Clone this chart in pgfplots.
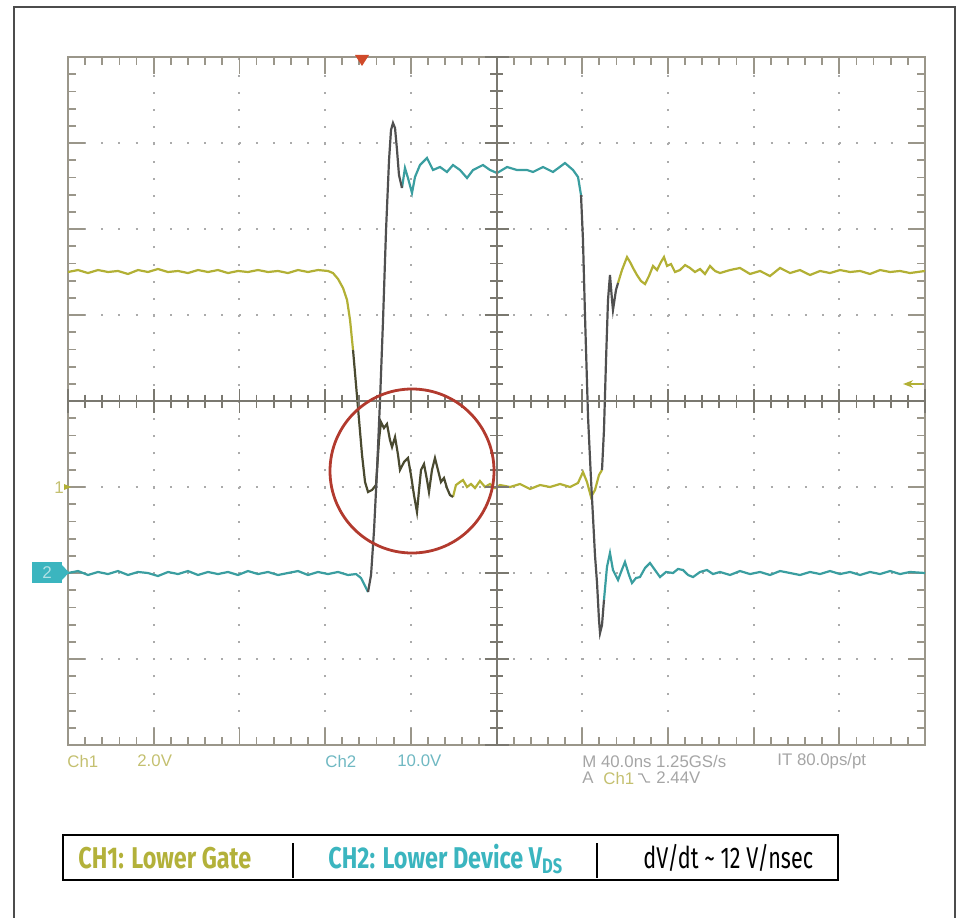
\documentclass[border=0pt]{standalone}
\usepackage{pgfplots}
\pgfplotsset{compat=1.18}
\usetikzlibrary{arrows.meta}
\usepackage{fontspec}
\setmainfont{Liberation Sans}
\newfontfamily\legfont{Fira Sans}[FakeStretch=0.78]
\newfontfamily\legfontr{Fira Sans}[FakeStretch=0.72]
\definecolor{chone}{HTML}{B2B035}
\definecolor{chtwo}{HTML}{3A9EA0}
\definecolor{edge}{HTML}{505050}
\definecolor{ringdark}{HTML}{4A4A30}
\definecolor{framec}{HTML}{9A968A}
\definecolor{gridc}{HTML}{ABABAB}
\definecolor{centerc}{HTML}{7A7870}
\definecolor{ringc}{HTML}{B23A2E}
\definecolor{trig}{HTML}{D04A2A}
\definecolor{chonetxt}{HTML}{C4C070}
\definecolor{chtwotxt}{HTML}{6FB8C2}
\definecolor{scopegray}{HTML}{A5A5A5}
\definecolor{legone}{HTML}{B3B13A}
\definecolor{legtwo}{HTML}{3BB5BF}
\begin{document}
\begin{tikzpicture}
\useasboundingbox (0,0) rectangle (480.5pt,458.5pt);
\begin{axis}[at={(34pt,86pt)}, anchor=south west,
  width=428.5pt, height=344pt, scale only axis,
  xmin=0, xmax=10, ymin=-4, ymax=4,
  xtick={0,...,10}, ytick={-4,...,4},
  minor x tick num=4, minor y tick num=4,
  xticklabels={}, yticklabels={},
  tick align=inside, major tick length=8.5pt, minor tick length=4pt,
  axis line style={framec, line width=1.2pt},
  tick style={framec, line width=0.9pt},
  grid=major,
  major grid style={gridc, line width=1pt, dash pattern=on 1pt off 7.58pt, dash phase=0.5pt},
  clip=false]
% CH1 lower gate (divisions)
\addplot[chone, line width=1.1pt] coordinates {(0,1.500)(0.117,1.523)(0.233,1.488)(0.350,1.523)(0.467,1.500)(0.583,1.512)(0.700,1.477)(0.817,1.523)(0.933,1.500)(1.050,1.535)(1.167,1.500)(1.284,1.512)(1.400,1.488)(1.517,1.523)(1.634,1.500)(1.750,1.523)(1.867,1.488)(1.984,1.512)(2.100,1.500)(2.217,1.523)(2.334,1.500)(2.450,1.512)(2.567,1.488)(2.684,1.523)(2.800,1.500)(2.917,1.523)(3.034,1.512)(3.092,1.488)(3.151,1.419)(3.209,1.314)(3.256,1.174)(3.291,0.942)(3.326,0.593)};
\addplot[chone, line width=1.1pt] coordinates {(4.492,-1.116)(4.527,-0.977)(4.574,-0.942)(4.609,-0.919)(4.656,-1.000)(4.702,-0.965)(4.749,-1.012)(4.807,-0.930)(4.866,-1.000)(4.924,-0.965)(4.982,-1.012)(5.041,-0.977)(5.158,-1.000)(5.274,-0.965)(5.391,-1.023)(5.508,-0.977)(5.624,-1.000)(5.741,-0.965)(5.858,-1.000)(5.951,-0.953)(6.009,-0.826)(6.056,-0.942)(6.103,-1.116)(6.149,-1.035)(6.196,-0.860)(6.231,-0.802)};
\addplot[chone, line width=1.1pt] coordinates {(6.418,1.372)(6.464,1.523)(6.523,1.674)(6.558,1.616)(6.593,1.547)(6.639,1.465)(6.686,1.395)(6.733,1.360)(6.779,1.453)(6.826,1.570)(6.873,1.523)(6.919,1.616)(6.954,1.674)(6.990,1.570)(7.036,1.593)(7.083,1.500)(7.141,1.523)(7.200,1.581)(7.258,1.547)(7.316,1.500)(7.375,1.535)(7.433,1.477)(7.491,1.570)(7.550,1.512)(7.608,1.488)(7.725,1.523)(7.841,1.547)(7.958,1.477)(8.075,1.512)(8.191,1.453)(8.308,1.547)(8.425,1.488)(8.541,1.523)(8.658,1.465)(8.775,1.512)(8.891,1.488)(9.008,1.523)(9.125,1.500)(9.242,1.512)(9.358,1.477)(9.475,1.523)(9.592,1.500)(9.708,1.512)(9.825,1.488)(10.000,1.512)};
% CH2 lower device VDS (divisions)
\addplot[chtwo, line width=1.1pt] coordinates {(0,-2.000)(0.117,-1.977)(0.233,-2.023)(0.350,-1.988)(0.467,-2.012)(0.583,-1.977)(0.700,-2.023)(0.817,-1.988)(0.933,-2.000)(1.050,-2.035)(1.167,-1.988)(1.284,-2.012)(1.400,-1.977)(1.517,-2.023)(1.634,-1.988)(1.750,-2.012)(1.867,-1.988)(1.984,-2.023)(2.100,-1.977)(2.217,-2.012)(2.334,-1.988)(2.450,-2.023)(2.567,-2.000)(2.684,-1.977)(2.800,-2.023)(2.917,-1.988)(3.034,-2.012)(3.151,-1.988)(3.267,-2.023)(3.361,-2.012)(3.419,-2.058)(3.466,-2.151)(3.501,-2.221)};
\addplot[chtwo, line width=1.1pt] coordinates {(3.897,2.477)(3.932,2.709)(3.967,2.593)(4.014,2.419)(4.049,2.605)(4.107,2.744)(4.189,2.826)(4.259,2.686)(4.341,2.721)(4.422,2.663)(4.492,2.744)(4.574,2.686)(4.656,2.593)(4.726,2.686)(4.842,2.744)(4.924,2.686)(5.006,2.651)(5.123,2.721)(5.239,2.686)(5.356,2.686)(5.426,2.663)(5.543,2.721)(5.659,2.663)(5.799,2.767)(5.893,2.686)(5.951,2.605)(5.986,2.395)};
\addplot[chtwo, line width=1.1pt] coordinates {(6.254,-2.314)(6.289,-1.930)(6.324,-1.767)(6.359,-1.965)(6.418,-2.081)(6.453,-1.988)(6.499,-1.872)(6.546,-2.023)(6.581,-2.116)(6.628,-2.058)(6.674,-2.047)(6.733,-1.942)(6.791,-1.884)(6.849,-1.965)(6.908,-2.047)(6.978,-1.988)(7.060,-2.000)(7.118,-1.953)(7.176,-1.965)(7.235,-2.023)(7.293,-2.047)(7.375,-1.988)(7.456,-1.965)(7.526,-2.012)(7.608,-1.988)(7.725,-2.023)(7.841,-1.977)(7.958,-2.012)(8.075,-1.988)(8.191,-2.023)(8.308,-1.977)(8.425,-2.000)(8.541,-2.023)(8.658,-1.988)(8.775,-2.012)(8.891,-1.977)(9.008,-2.012)(9.125,-1.988)(9.242,-2.023)(9.358,-1.988)(9.475,-2.012)(9.592,-1.977)(9.708,-2.012)(9.825,-1.988)(10.000,-2.000)};
% fast edges (overlapping traces, drawn dark)
\addplot[ringdark, line width=1.1pt] coordinates {(3.326,0.593)(3.361,0.186)(3.396,-0.221)(3.431,-0.628)(3.466,-0.942)(3.501,-1.058)(3.547,-1.035)(3.594,-0.977)(3.629,-0.453)(3.652,-0.244)(3.687,-0.314)(3.722,-0.267)(3.757,-0.453)(3.781,-0.535)(3.816,-0.419)(3.851,-0.628)(3.874,-0.802)(3.921,-0.709)(3.967,-0.663)(4.002,-0.860)(4.037,-1.093)(4.072,-1.291)(4.096,-1.035)(4.119,-0.802)(4.154,-0.733)(4.189,-0.919)(4.212,-1.058)(4.247,-0.802)(4.282,-0.663)(4.317,-0.802)(4.352,-0.942)(4.387,-0.895)(4.422,-1.012)(4.457,-1.093)(4.492,-1.116)};
\addplot[edge, line width=1.1pt] coordinates {(6.231,-0.802)(6.254,-0.337)(6.278,0.477)(6.301,1.174)(6.324,1.465)(6.348,1.174)(6.359,1.058)(6.394,1.291)(6.418,1.372)};
\addplot[edge, line width=1.1pt] coordinates {(3.501,-2.221)(3.536,-2.023)(3.571,-1.500)(3.606,-0.802)(3.641,0.012)(3.676,0.942)(3.711,1.988)(3.746,2.802)(3.769,3.151)(3.792,3.233)(3.816,3.174)(3.839,2.919)(3.862,2.628)(3.897,2.477)};
\addplot[edge, line width=1.1pt] coordinates {(5.986,2.395)(6.009,1.872)(6.033,0.977)(6.068,-0.186)(6.103,-0.919)(6.126,-1.349)(6.149,-1.791)(6.173,-2.116)(6.196,-2.547)(6.208,-2.698)(6.231,-2.605)(6.254,-2.314)};
\end{axis}
\begin{scope}[x=0.5pt, y=-0.5pt, shift={(0pt,458.5pt)}]
% outer frame
\draw[black!70, line width=1pt] (14,925) -- (14,7) -- (955,7) -- (955,925);
% centre cross with ticks
\draw[centerc, line width=1pt] (496.5,57) -- (496.5,745);
\draw[centerc, line width=1pt] (68,401) -- (925,401);
\foreach \i in {0,...,40} {\pgfmathsetmacro\yy{57+\i*17.2}
  \draw[centerc, line width=0.9pt] (490,\yy) -- (503,\yy);}
\foreach \i in {0,...,8} {\pgfmathsetmacro\yy{57+\i*86}
  \draw[centerc, line width=0.9pt] (484.5,\yy) -- (508.5,\yy);}
\foreach \i in {0,...,50} {\pgfmathsetmacro\xx{68+\i*17.14}
  \draw[centerc, line width=0.9pt] (\xx,394.5) -- (\xx,407.5);}
\foreach \i in {0,...,10} {\pgfmathsetmacro\xx{68+\i*85.7}
  \draw[centerc, line width=0.9pt] (\xx,389) -- (\xx,413);}
% highlight circle
\draw[ringc, line width=1.4pt] (412,471) circle (82);
% trigger position & level markers
\fill[trig] (355,55) -- (369,55) -- (362,66) -- cycle;
\draw[chone, line width=1pt, -{Stealth[length=5pt]}] (922,384) -- (903,384);
% ground markers
\node[chonetxt, inner sep=0, font=\fontsize{8.5}{10}\selectfont] at (59,488) {1};
\fill[chone] (64,484) -- (71,487) -- (64,490) -- cycle;
\fill[legtwo] (32,562) rectangle (62,583);
\fill[legtwo] (62,565) -- (69,572.5) -- (62,580) -- cycle;
\node[white!60!legtwo, inner sep=0, font=\fontsize{8.5}{10}\selectfont] at (47,572.5) {2};
% scope readouts
\begin{scope}[every node/.style={anchor=west, inner sep=0, font=\fontsize{8.4}{10}\selectfont}]
\node[chonetxt] at (67,761) {Ch1};
\node[chonetxt] at (137,761) {2.0V};
\node[chtwotxt] at (325,761) {Ch2};
\node[chtwotxt] at (397,761) {10.0V};
\node[scopegray] at (582,761) {M 40.0ns 1.25GS/s};
\node[scopegray] at (777,761) {IT 80.0ps/pt};
\node[scopegray] at (582,778) {A};
\node[chonetxt] at (603,778) {Ch1};
\node[scopegray] at (656,778) {2.44V};
\end{scope}
\draw[scopegray, line width=0.6pt] (638,774) -- (642,774) -- (646,782) -- (650,782);
% legend box
\draw[black, line width=0.7pt] (63,835) rectangle (838,880);
\draw[black, line width=0.8pt] (293,843) -- (293,878);
\draw[black, line width=0.8pt] (597,843) -- (597,878);
\node[anchor=base west, inner sep=0, legone, font=\legfont\fontsize{15}{18}\selectfont\bfseries] at (78,868) {CH1: Lower Gate};
\node[anchor=base west, inner sep=0, legtwo, font=\legfont\fontsize{15}{18}\selectfont\bfseries] at (328,868) {CH2: Lower Device V\textsubscript{DS}};
\node[anchor=base west, inner sep=0, black, font=\legfontr\fontsize{15}{18}\selectfont] at (643,868) {dV/dt \textasciitilde{} 12 V/nsec};
\end{scope}
\end{tikzpicture}
\end{document}
